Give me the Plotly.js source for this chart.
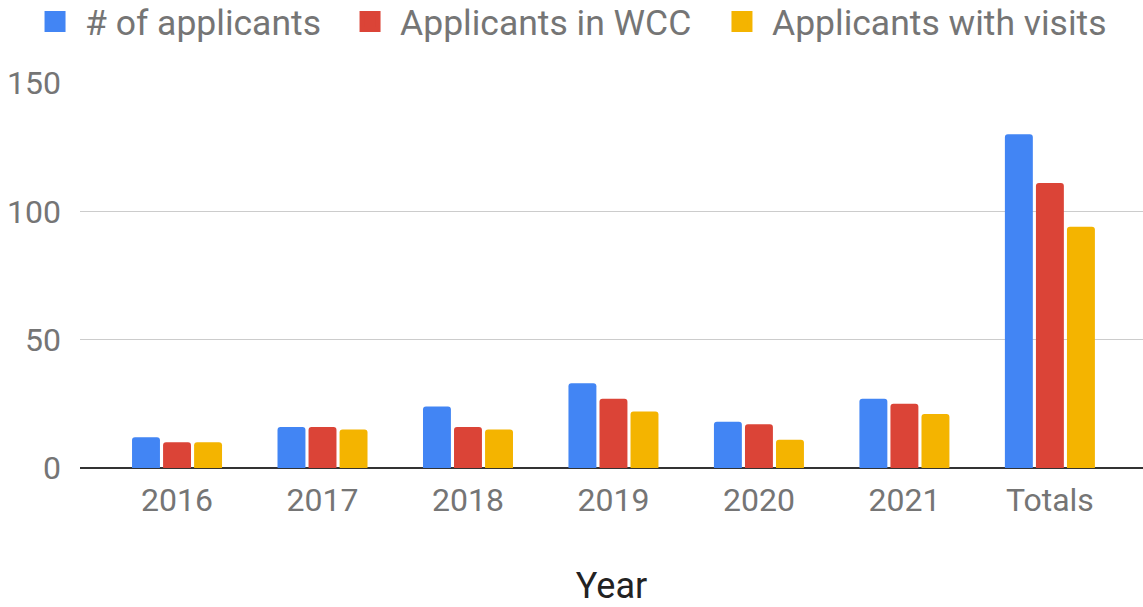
<!DOCTYPE html>
<html>
<head>
<meta charset="utf-8">
<script src="https://cdn.plot.ly/plotly-3.0.1.min.js"></script>
<style>html,body{margin:0;padding:0;background:#fff;}#chart{width:1143px;height:607px;}</style>
</head>
<body>
<div id="chart"></div>
<script>
const categories = ["2016", "2017", "2018", "2019", "2020", "2021", "Totals"];
const applicants = [12, 16, 24, 33, 18, 27, 130];
const applicantsInWCC = [10, 16, 16, 27, 17, 25, 111];
const applicantsWithVisits = [10, 15, 15, 22, 11, 21, 94];
const seriesNames = ["# of applicants", "Applicants in WCC", "Applicants with visits"];
const colors = ["#4285F4", "#DB4437", "#F4B400"];
const yTicks = [0, 50, 100, 150];

const legendIds = ["legend", "legend2", "legend3"];
const legendX = [0.0219, 0.2975, 0.6229];

const barTraces = [applicants, applicantsInWCC, applicantsWithVisits].map((vals, i) => ({
  type: "bar",
  name: seriesNames[i],
  x: categories,
  y: vals,
  marker: {color: colors[i], line: {width: 0}},
  showlegend: false,
  legendgroup: "g" + i
}));

// legend-only entries (larger square swatches like the reference)
const legendTraces = seriesNames.map((n, i) => ({
  type: "scatter",
  mode: "markers",
  name: n,
  x: [null],
  y: [null],
  marker: {symbol: "square", size: 16, color: colors[i], line: {width: 5, color: colors[i]}},
  showlegend: true,
  legendgroup: "g" + i,
  legend: legendIds[i]
}));

const layout = {
  width: 1143,
  height: 607,
  margin: {l: 80, r: 0, t: 83, b: 139},
  paper_bgcolor: "#ffffff",
  plot_bgcolor: "#ffffff",
  font: {family: "Roboto, Arial, sans-serif", color: "#757575", size: 32},
  barmode: "group",
  bargap: 0.36,
  bargroupgap: 0.1,
  barcornerradius: 3,
  showlegend: true,
  xaxis: {
    type: "category",
    range: [-0.667, 6.64],
    showgrid: false,
    zeroline: false,
    showline: false,
    ticks: "",
    ticklabelstandoff: 10,
    tickfont: {size: 32, color: "#757575"},
    title: {text: "Year", font: {size: 36, color: "#222222"}, standoff: 60},
    fixedrange: true
  },
  yaxis: {
    range: [0, 150],
    tickvals: yTicks,
    ticktext: yTicks.map(String),
    showgrid: true,
    gridcolor: "#cccccc",
    gridwidth: 1.5,
    zeroline: true,
    zerolinecolor: "#333333",
    zerolinewidth: 2,
    showline: false,
    ticks: "",
    ticklabelstandoff: 18,
    tickfont: {size: 32, color: "#757575"},
    fixedrange: true
  }
};

legendIds.forEach((id, i) => {
  layout[id] = {
    orientation: "h",
    xref: "container", yref: "container",
    x: legendX[i], y: 0.964, xanchor: "left", yanchor: "middle",
    font: {size: 35.5, color: "#757575", family: "Roboto, Arial, sans-serif"},
    itemwidth: 50,
    itemsizing: "trace",
    bgcolor: "rgba(0,0,0,0)"
  };
});

Plotly.newPlot("chart", barTraces.concat(legendTraces), layout, {displayModeBar: false, staticPlot: true});
</script>
</body>
</html>
